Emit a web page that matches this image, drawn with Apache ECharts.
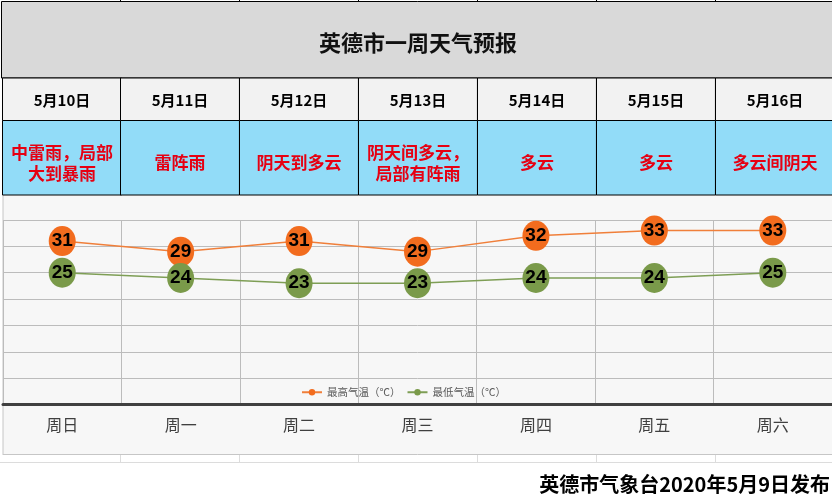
<!DOCTYPE html>
<html>
<head>
<meta charset="utf-8">
<script src="https://cdn.jsdelivr.net/npm/echarts@6/dist/echarts.min.js"></script>
<style>
html,body{margin:0;padding:0;background:#fff;}
#c{width:832px;height:498px;}
</style>
</head>
<body>
<div id="c"></div>
<script>
const title = '英德市一周天气预报';
const dates = ['5月10日', '5月11日', '5月12日', '5月13日', '5月14日', '5月15日', '5月16日'];
const weather = ['中雷雨，局部\n大到暴雨', '雷阵雨', '阴天到多云', '阴天间多云，\n局部有阵雨', '多云', '多云', '多云间阴天'];
const weekdays = ['周日', '周一', '周二', '周三', '周四', '周五', '周六'];
const highTemps = [31, 29, 31, 29, 32, 33, 33];
const lowTemps = [25, 24, 23, 23, 24, 24, 25];
const seriesNames = ['最高气温（℃）', '最低气温（℃）'];
const footer = '英德市气象台2020年5月9日发布';

const CJK = '"Noto Sans CJK SC", sans-serif';
const colX0 = 1.5, colW = 118.95;
const rowTitle = [1.5, 78], rowDate = [78, 120.5], rowWx = [120.5, 195];

const g = [];
// chart area background
g.push({type: 'rect', z: -10, shape: {x: 3, y: 195, width: 829, height: 259.5}, style: {fill: '#f7f7f7'}});
g.push({type: 'line', z: -9, shape: {x1: 3, y1: 195, x2: 3, y2: 455}, style: {stroke: '#c6c6c6', lineWidth: 1}});
g.push({type: 'line', z: -9, shape: {x1: 3, y1: 454.5, x2: 832, y2: 454.5}, style: {stroke: '#c6c6c6', lineWidth: 1}});
// spreadsheet gridlines below chart
g.push({type: 'line', z: -9, shape: {x1: 0, y1: 462.5, x2: 832, y2: 462.5}, style: {stroke: '#dcdcdc', lineWidth: 1}});
for (let i = 1; i < 7; i++) {
  const x = Math.round(colX0 + i * colW) + 0.5;
  g.push({type: 'line', z: -9, shape: {x1: x, y1: 455, x2: x, y2: 462}, style: {stroke: '#dcdcdc', lineWidth: 1}});
  g.push({type: 'line', z: 5, shape: {x1: x, y1: 0, x2: x, y2: 2}, style: {stroke: '#000', lineWidth: 1}});
}
// title row
g.push({type: 'rect', z: 1, shape: {x: colX0, y: rowTitle[0], width: 832, height: rowTitle[1] - rowTitle[0]}, style: {fill: '#d9d9d9', stroke: '#000', lineWidth: 1}});
g.push({type: 'text', z: 6, style: {text: title, x: 418, y: 43, align: 'center', verticalAlign: 'middle', font: 'bold 22px ' + CJK, fill: '#111'}});
// date and weather rows
for (let i = 0; i < dates.length; i++) {
  const x = Math.round(colX0 + i * colW) + 0.5;
  g.push({type: 'rect', z: 1, shape: {x: x, y: rowDate[0], width: colW, height: rowDate[1] - rowDate[0]}, style: {fill: '#f2f2f2', stroke: '#000', lineWidth: 1}});
  g.push({type: 'rect', z: 1, shape: {x: x, y: rowWx[0], width: colW, height: rowWx[1] - rowWx[0]}, style: {fill: '#92dcf8', stroke: '#000', lineWidth: 1}});
  g.push({type: 'text', z: 6, style: {text: dates[i], x: x + colW / 2, y: 100, align: 'center', verticalAlign: 'middle', font: 'bold 15px ' + CJK, fill: '#000'}});
  g.push({type: 'text', z: 6, style: {text: weather[i], x: x + colW / 2, y: 163, align: 'center', verticalAlign: 'middle', font: 'bold 17px ' + CJK, lineHeight: 21, fill: '#e60012'}});
}
// footer
g.push({type: 'text', z: 6, style: {text: footer, x: 830, y: 484, align: 'right', verticalAlign: 'middle', font: 'bold 20px ' + CJK, fill: '#000'}});

const labelStyle = {show: true, position: 'inside', color: '#000', fontSize: 19, fontWeight: 'bold', fontFamily: '"Liberation Sans Narrow", "Liberation Sans", sans-serif'};

const chart = echarts.init(document.getElementById('c'), null, {renderer: 'canvas'});
chart.setOption({
  animation: false,
  backgroundColor: '#ffffff',
  graphic: {elements: g},
  grid: {left: 3, right: 0, top: 220, bottom: 93.5, containLabel: false},
  legend: {
    data: seriesNames,
    left: 296, top: 382,
    itemWidth: 20, itemHeight: 8, itemGap: 6,
    textStyle: {fontSize: 10.5, color: '#595959', fontFamily: CJK}
  },
  xAxis: {
    type: 'category',
    data: weekdays,
    boundaryGap: true,
    axisLine: {show: true, lineStyle: {color: '#404040', width: 3}},
    axisTick: {show: false},
    axisLabel: {margin: 12, fontSize: 16, color: '#404040', fontFamily: CJK},
    splitLine: {show: true, interval: 0, lineStyle: {color: '#bcbcbc', width: 1}}
  },
  yAxis: {
    type: 'value',
    min: 0, max: 35, interval: 5,
    axisLabel: {show: false},
    axisLine: {show: false},
    axisTick: {show: false},
    splitLine: {show: true, lineStyle: {color: '#bcbcbc', width: 1}}
  },
  series: [
    {
      name: seriesNames[0], type: 'line', data: highTemps,
      symbol: 'circle', symbolSize: [27, 30],
      lineStyle: {color: '#f07f3a', width: 1.5},
      itemStyle: {color: '#f26c1e'},
      label: labelStyle, z: 3
    },
    {
      name: seriesNames[1], type: 'line', data: lowTemps,
      symbol: 'circle', symbolSize: [27, 30],
      lineStyle: {color: '#7e9e55', width: 1.5},
      itemStyle: {color: '#7a9a4a'},
      label: labelStyle, z: 3
    }
  ]
});
</script>
</body>
</html>
